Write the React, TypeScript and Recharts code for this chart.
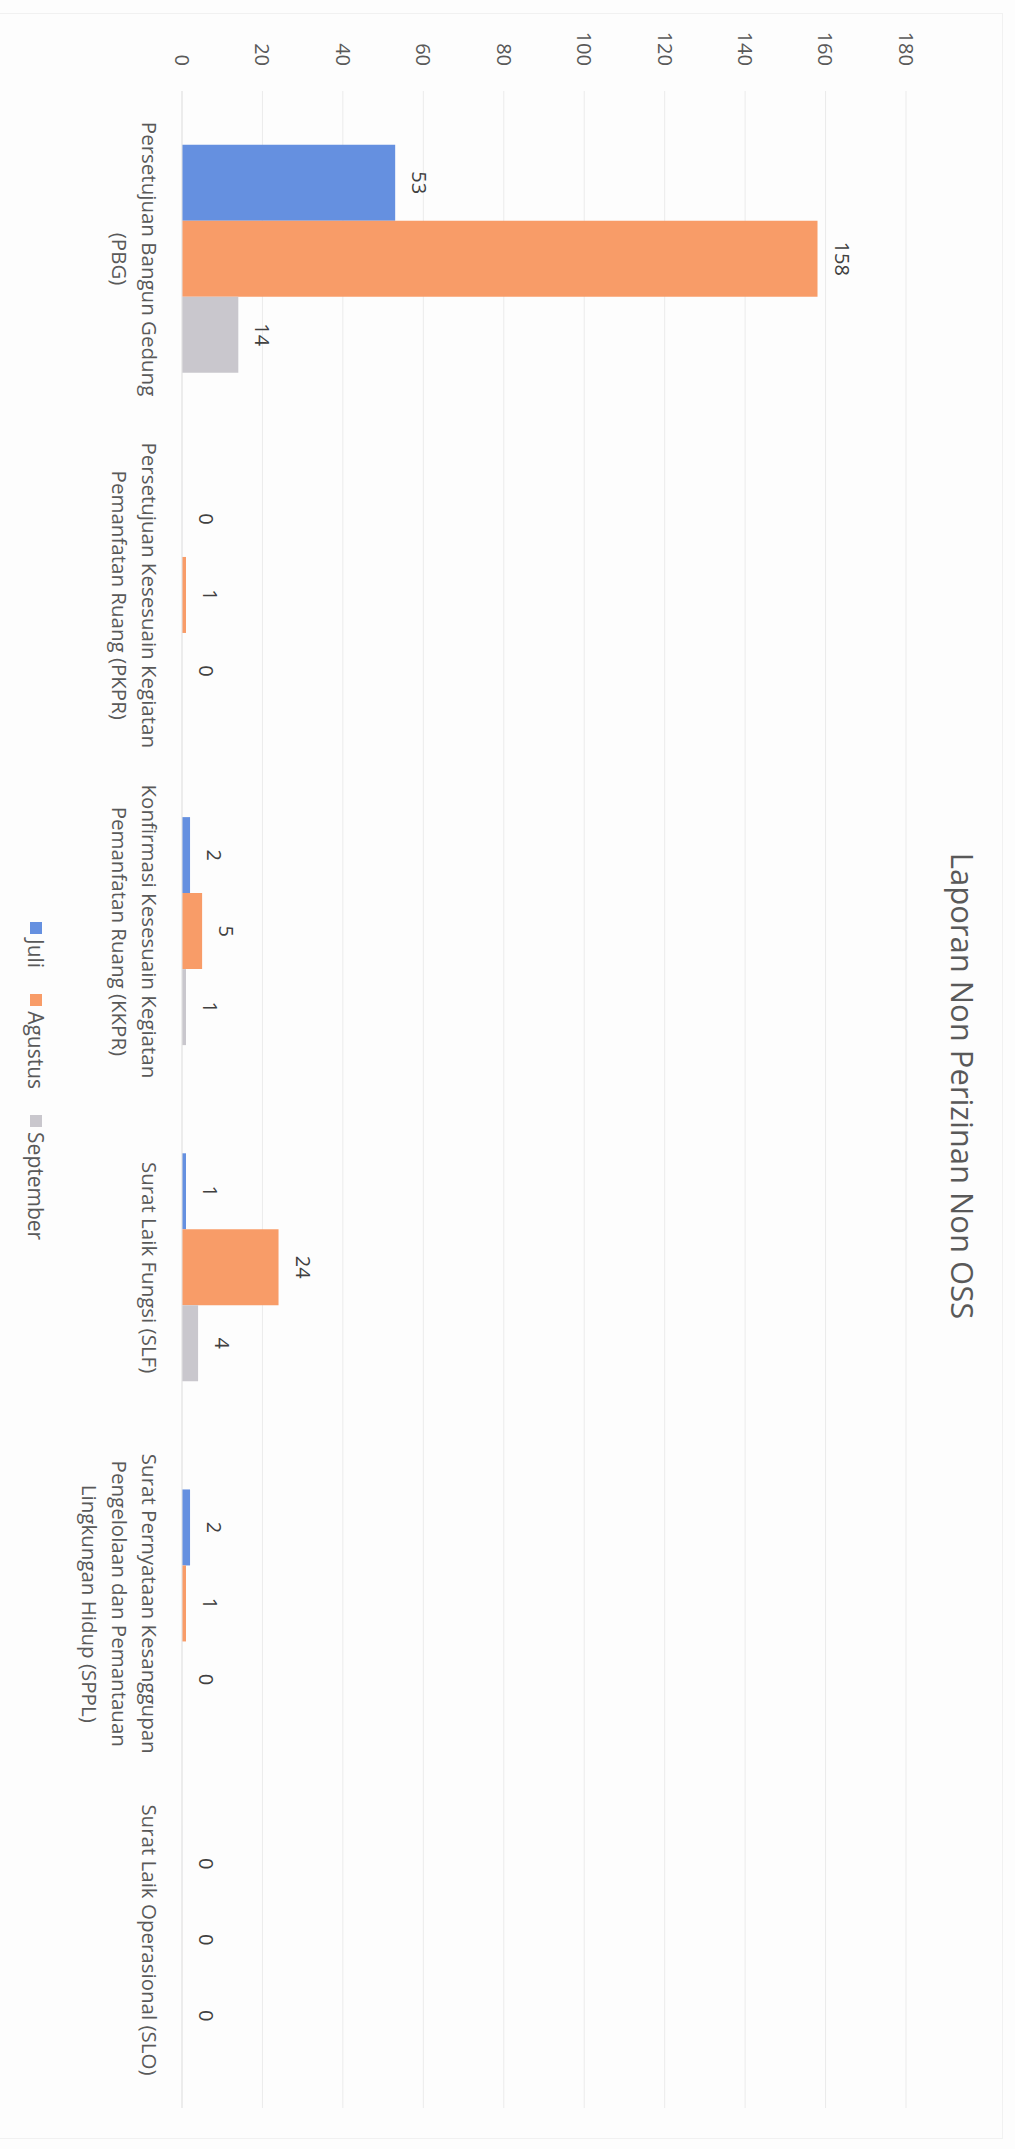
import React from "react";
import { BarChart, Bar, XAxis, YAxis, CartesianGrid, LabelList } from "recharts";

const categories = [
  "Persetujuan Bangun Gedung\n(PBG)",
  "Persetujuan Kesesuain Kegiatan\nPemanfatan Ruang (PKPR)",
  "Konfirmasi Kesesuain Kegiatan\nPemanfatan Ruang (KKPR)",
  "Surat Laik Fungsi (SLF)",
  "Surat Pernyataan Kesanggupan\nPengelolaan dan Pemantauan\nLingkungan Hidup (SPPL)",
  "Surat Laik Operasional (SLO)",
];
const juli = [53, 0, 2, 1, 2, 0];
const agustus = [158, 1, 5, 24, 1, 0];
const september = [14, 0, 1, 4, 0, 0];
const valueTicks = [0, 20, 40, 60, 80, 100, 120, 140, 160, 180];
const seriesNames = ["Juli", "Agustus", "September"];
const seriesColors = ["#6590e0", "#f89c68", "#c9c7cd"];
const title = "Laporan Non Perizinan Non OSS";

const data = categories.map((name, i) => ({
  name,
  Juli: juli[i],
  Agustus: agustus[i],
  September: september[i],
}));

const FONT = "'Open Sans', 'DejaVu Sans', sans-serif";

const CategoryTick = (props: any) => {
  const { x, y, payload } = props;
  const lines = String(payload.value).split("\n");
  return (
    <g>
      {lines.map((l: string, i: number) => (
        <text
          key={i}
          x={x}
          y={y + 40 + i * 30}
          textAnchor="middle"
          fontSize={20.5}
          fill="#595959"
          fontFamily={FONT}
        >
          {l}
        </text>
      ))}
    </g>
  );
};

export default function App() {
  const W = 2149;
  const H = 1015;
  return (
    <div
      style={{
        position: "absolute",
        top: 0,
        left: 0,
        width: H,
        height: W,
        overflow: "hidden",
        background: "#fdfdfd",
      }}
    >
      <div
        style={{
          position: "absolute",
          top: 0,
          left: 0,
          width: W,
          height: H,
          transformOrigin: "0 0",
          transform: `translateX(${H}px) rotate(90deg)`,
          fontFamily: FONT,
        }}
      >
        <div
          style={{
            position: "absolute",
            left: 13,
            top: 12,
            width: 2126,
            height: 1010,
            border: "1px solid #f1f1f1",
            boxSizing: "border-box",
          }}
        />
        <div
          style={{
            position: "absolute",
            left: 1086 - 600,
            top: 37,
            width: 1200,
            textAlign: "center",
            fontSize: 31,
            lineHeight: "31px",
            color: "#595959",
            fontFamily: FONT,
            whiteSpace: "nowrap",
          }}
        >
          {title}
        </div>
        <div style={{ position: "absolute", left: 0, top: 0 }}>
          <BarChart
            width={W}
            height={H}
            data={data}
            margin={{ top: 109, right: 41, bottom: 82, left: 31 }}
            barCategoryGap="16%"
            barGap={0}
          >
            <CartesianGrid vertical={false} stroke="#ebebeb" />
            <XAxis
              dataKey="name"
              type="category"
              interval={0}
              height={100}
              tickLine={false}
              tickSize={0}
              tickMargin={0}
              axisLine={{ stroke: "#e4e4e4" }}
              tick={<CategoryTick />}
            />
            <YAxis
              type="number"
              domain={[0, 180]}
              ticks={valueTicks}
              width={60}
              tickLine={false}
              axisLine={false}
              tickSize={0}
              tickMargin={25}
              tick={{ fontSize: 20, fill: "#595959", fontFamily: FONT }}
            />
            {seriesNames.map((s, i) => (
              <Bar
                key={s}
                dataKey={s}
                fill={seriesColors[i]}
                minPointSize={0.01}
                isAnimationActive={false}
              >
                <LabelList
                  dataKey={s}
                  position="top"
                  offset={17}
                  fontSize={20}
                  fill="#404040"
                  fontFamily={FONT}
                />
              </Bar>
            ))}
          </BarChart>
        </div>
        <div
          style={{
            position: "absolute",
            left: 922,
            top: 979 - 15,
            height: 30,
            display: "flex",
            alignItems: "center",
            fontSize: 21,
            color: "#595959",
            fontFamily: FONT,
            whiteSpace: "nowrap",
          }}
        >
          {seriesNames.map((s, i) => (
            <div key={s} style={{ display: "flex", alignItems: "center", marginRight: 26 }}>
              <div style={{ width: 12, height: 12, background: seriesColors[i], marginRight: 5 }} />
              <span>{s}</span>
            </div>
          ))}
        </div>
      </div>
    </div>
  );
}
